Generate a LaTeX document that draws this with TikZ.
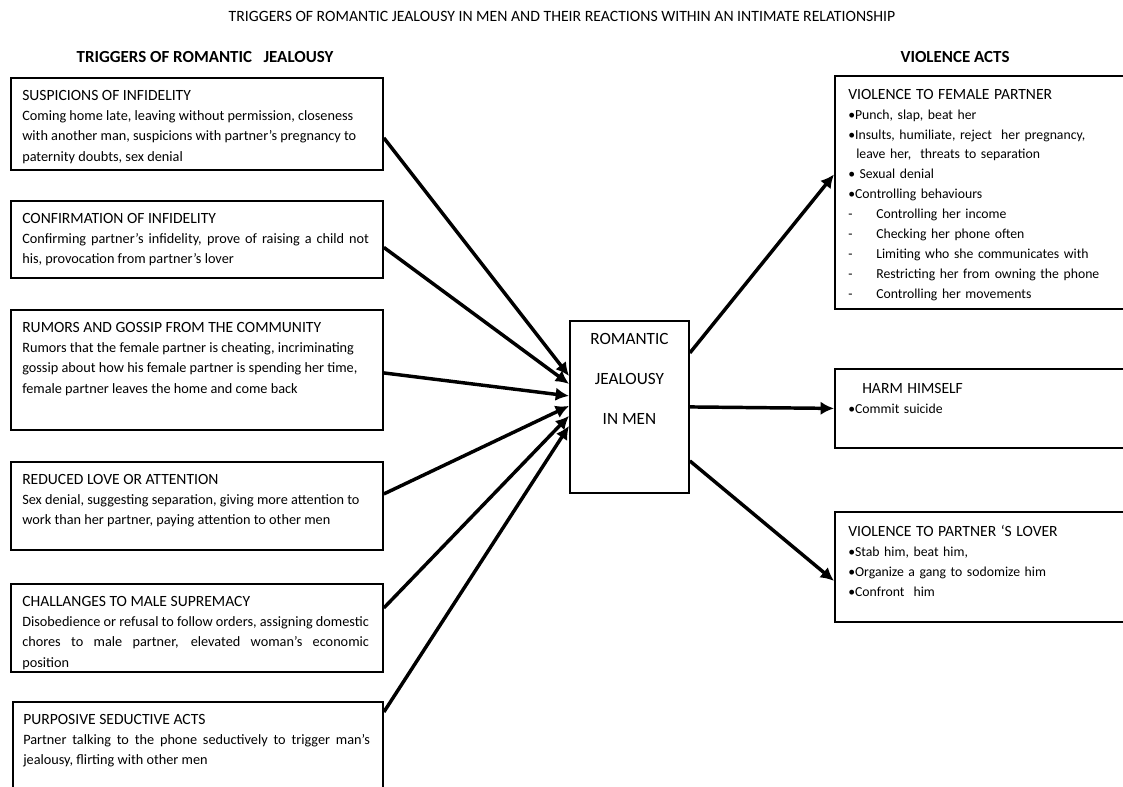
\documentclass[tikz,border=0pt]{standalone}
\usepackage{fontspec}
\setmainfont{Carlito}
\usepackage{tikz}
\usetikzlibrary{calc,positioning,arrows.meta}

\newcommand{\boxhead}[1]{{\fontsize{11.7}{15}\selectfont #1}}

\begin{document}
\begin{tikzpicture}[x=0.75pt,y=-0.75pt]

\tikzstyle{trigbox} = [draw, line width=1.4pt, rectangle, anchor=north west, inner sep=0pt, minimum width=279pt]
\tikzstyle{actbox} = [draw, line width=1.4pt, rectangle, anchor=north west, inner sep=0pt, minimum width=219pt]
\tikzstyle{trigtext} = [anchor=north west, inner sep=0pt, text width=260pt, align=justify, font=\fontsize{10.7}{15.2}\selectfont]
\tikzstyle{acttext} = [anchor=north west, inner sep=0pt, text width=200pt, align=left, font=\fontsize{10.3}{14.9}\selectfont]
\tikzstyle{colhead} = [font=\fontsize{12.7}{14}\selectfont\bfseries]
\tikzstyle{myarrow} = [line width=2.6pt, -{Latex[length=10pt,width=10pt]}]

\useasboundingbox (0,0) rectangle (1123,787);
\clip (0,0) rectangle (1123,787);

% \draw[step=50,gray,very thin] (0,0) grid (1123,787);

\node (title) [font=\fontsize{11.8}{13}\selectfont] at (562,16) {TRIGGERS OF ROMANTIC JEALOUSY IN MEN AND THEIR REACTIONS WITHIN AN INTIMATE RELATIONSHIP};
\node (lefthead) [colhead] at (205,57) {TRIGGERS OF ROMANTIC~~~JEALOUSY};
\node (righthead) [colhead] at (955,57) {VIOLENCE ACTS};

% triggers
\node (b1) [trigbox, minimum height=69pt] at (10,77) {};
\node (t1) [trigtext] at ($(b1.north west)+(12,13)$) {\boxhead{SUSPICIONS OF INFIDELITY}\\
Coming home late, leaving without permission, closeness\\
with another man, suspicions with partner’s pregnancy to\\
paternity doubts, sex denial};

\node (b2) [trigbox, minimum height=57.75pt] at (10,200) {};
\node (t2) [trigtext] at ($(b2.north west)+(12,13)$) {\boxhead{CONFIRMATION OF INFIDELITY}\\
Confirming partner’s infidelity, prove of raising a child not\linebreak
his, provocation from partner’s lover};

\node (b3) [trigbox, minimum height=90pt] at (10,309) {};
\node (t3) [trigtext] at ($(b3.north west)+(12,13)$) {\boxhead{RUMORS AND GOSSIP FROM THE COMMUNITY}\\
Rumors that the female partner is cheating, incriminating\\
gossip about how his female partner is spending her time,\\
female partner leaves the home and come back};

\node (b4) [trigbox, minimum height=66pt] at (10,461) {};
\node (t4) [trigtext] at ($(b4.north west)+(12,13)$) {\boxhead{REDUCED LOVE OR ATTENTION}\\
Sex denial, suggesting separation, giving more attention to\\
work than her partner, paying attention to other men};

\node (b5) [trigbox, minimum height=66pt] at (10,583) {};
\node (t5) [trigtext] at ($(b5.north west)+(12,13)$) {\boxhead{CHALLANGES TO MALE SUPREMACY}\\
Disobedience or refusal to follow orders, assigning domestic\linebreak
chores to male partner, elevated woman’s economic\linebreak
position};

\node (b6) [trigbox, minimum width=277.5pt, minimum height=75pt] at (12,701) {};
\node (t6) [trigtext] at ($(b6.north west)+(11,13)$) {\boxhead{PURPOSIVE SEDUCTIVE ACTS}\\
Partner talking to the phone seductively to trigger man’s\linebreak
jealousy, flirting with other men};

% centre
\node (jeal) [draw, line width=1.4pt, rectangle, anchor=north west, inner sep=0pt, minimum width=89.25pt, minimum height=129pt] at (569,320) {};
\node (jealtext) [anchor=north, inner sep=0pt, align=center, font=\fontsize{12.9}{30}\selectfont] at ($(jeal.north)+(0,13)$) {ROMANTIC\\JEALOUSY\\IN MEN};

% violence acts
\node (v1) [actbox, minimum height=174.75pt] at (834,75) {};
\node (v1text) [acttext] at ($(v1.north west)+(14,14)$) {\boxhead{VIOLENCE TO FEMALE PARTNER}\\
\textbullet Punch, slap, beat her\\
\textbullet Insults, humiliate, reject\ \ her pregnancy,\\
\hspace*{6pt}leave her,\ \ threats to separation\\
\textbullet\ Sexual denial\\
\textbullet Controlling behaviours\\
\makebox[21pt][l]{-}Controlling her income\\
\makebox[21pt][l]{-}Checking her phone often\\
\makebox[21pt][l]{-}Limiting who she communicates with\\
\makebox[21pt][l]{-}Restricting her from owning the phone\\
\makebox[21pt][l]{-}Controlling her movements};

\node (v2) [actbox, minimum height=59.25pt] at (834,368) {};
\node (v2text) [acttext] at ($(v2.north west)+(14,15)$) {\hspace*{10.5pt}\boxhead{HARM HIMSELF}\\
\textbullet Commit suicide};

\node (v3) [actbox, minimum height=82.5pt] at (834,511) {};
\node (v3text) [acttext] at ($(v3.north west)+(14,14)$) {\boxhead{VIOLENCE TO PARTNER ‘S LOVER}\\
\textbullet Stab him, beat him,\\
\textbullet Organize a gang to sodomize him\\
\textbullet Confront\ \ him};

% arrows in
\draw [myarrow] ($(b1.east)+(0,14)$) -- ($(jeal.west)+(0,-31)$);
\draw [myarrow] ($(b2.east)+(0,8)$) -- ($(jeal.west)+(0,-23)$);
\draw [myarrow] ($(b3.east)+(0,3)$) -- ($(jeal.west)+(0,-11)$);
\draw [myarrow] ($(b4.east)+(0,-12)$) -- ($(jeal.west)+(0,-1)$);
\draw [myarrow] ($(b5.east)+(0,-20)$) -- ($(jeal.west)+(0,9)$);
\draw [myarrow] ($(b6.north east)+(0,11)$) -- ($(jeal.west)+(0,19)$);

% arrows out
\draw [myarrow] ($(jeal.east)+(0,-54)$) -- ($(v1.west)+(0,-18)$);
\draw [myarrow] (jeal.east) -- (v2.west);
\draw [myarrow] ($(jeal.east)+(0,54)$) -- ($(v3.west)+(0,14)$);

\end{tikzpicture}
\end{document}
